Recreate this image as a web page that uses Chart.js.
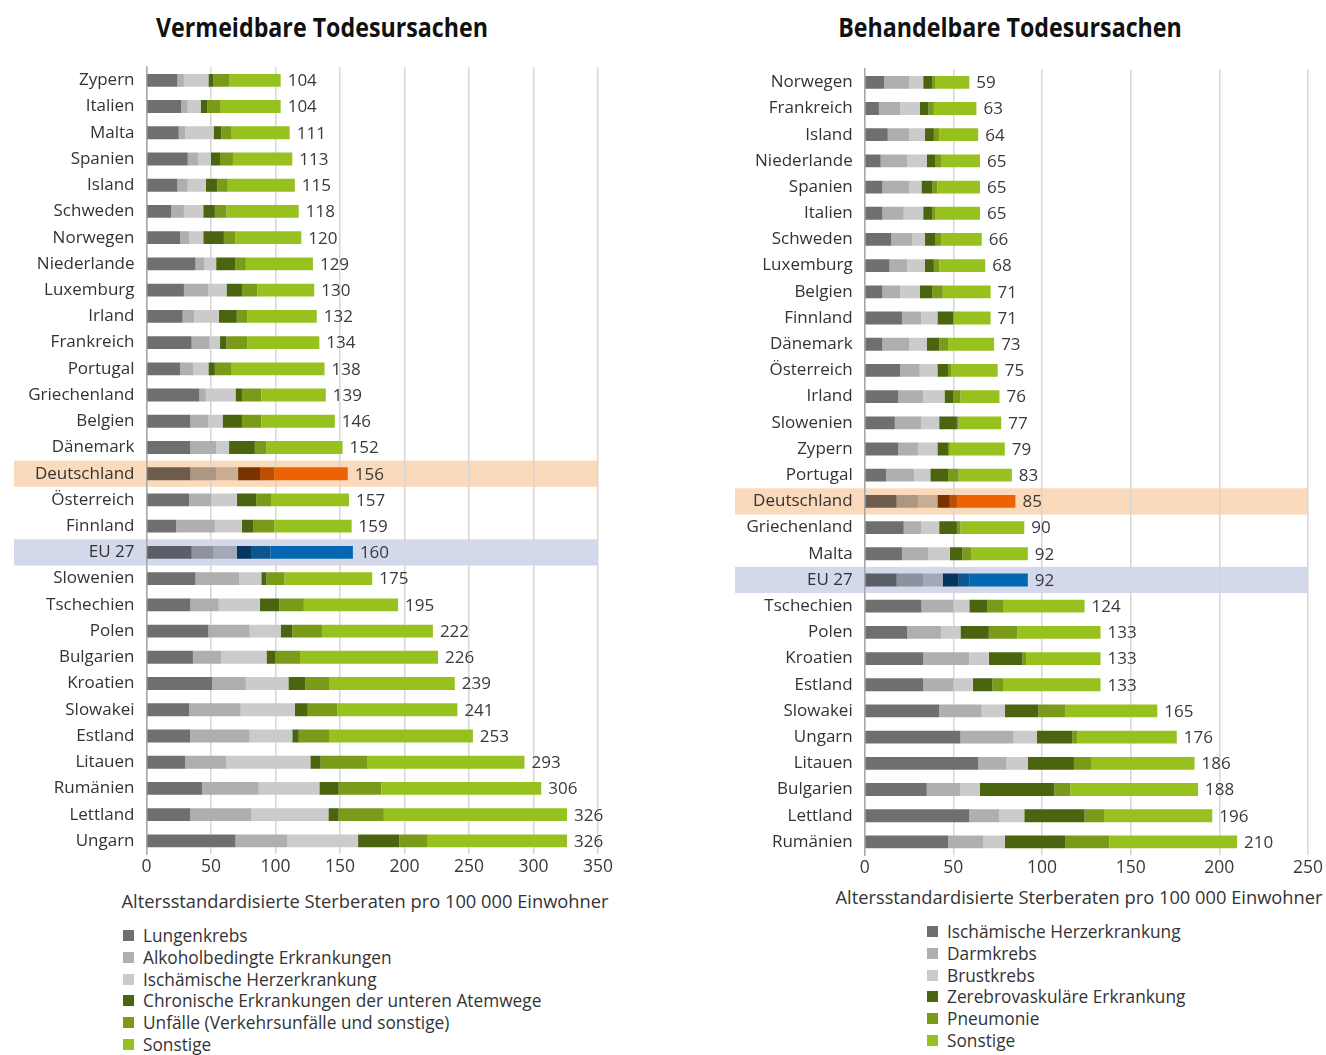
<!DOCTYPE html>
<html>
<head>
<meta charset="utf-8">
<title>Vermeidbare und behandelbare Todesursachen</title>
<script src="https://cdn.jsdelivr.net/npm/chart.js@4.4.1/dist/chart.umd.min.js"></script>
<style>
  body { margin: 0; width: 1326px; height: 1055px; background: #fff; font-family: "Open Sans", sans-serif; color: #333; position: relative; overflow: hidden; }
  .title { position: absolute; top: 8px; font-size: 27px; font-weight: 700; color: #111; text-align: center; transform: scaleX(0.86); }
  .axis-title { position: absolute; font-size: 18.3px; color: #333; text-align: center; }
  .legend { position: absolute; font-size: 17.3px; line-height: 21.8px; color: #333; }
  .legend div { position: relative; padding-left: 20px; white-space: nowrap; }
  .legend span { position: absolute; left: 0; top: 5px; width: 11px; height: 11px; }
  canvas { position: absolute; }
</style>
</head>
<body>

<div class="title" style="left:72px;width:500px;">Vermeidbare Todesursachen</div>
<div class="title" style="left:760px;width:500px;">Behandelbare Todesursachen</div>

<div style="position:absolute;left:0;top:45px;width:650px;height:835px;"><canvas id="left-chart"></canvas></div>
<div style="position:absolute;left:700px;top:47px;width:626px;height:834px;"><canvas id="right-chart"></canvas></div>

<div class="axis-title" style="left:60px;width:610px;top:888px;">Altersstandardisierte Sterberaten pro 100 000 Einwohner</div>
<div class="axis-title" style="left:779px;width:600px;top:884px;">Altersstandardisierte Sterberaten pro 100 000 Einwohner</div>

<div class="legend" id="left-legend" style="left:123px;top:925px;"></div>
<div class="legend" id="right-legend" style="left:927px;top:921px;"></div>

<script>
// ---- Vermeidbare Todesursachen ----
const vCountries = ["Zypern", "Italien", "Malta", "Spanien", "Island", "Schweden", "Norwegen", "Niederlande", "Luxemburg", "Irland",
  "Frankreich", "Portugal", "Griechenland", "Belgien", "Dänemark", "Deutschland", "Österreich", "Finnland", "EU 27", "Slowenien",
  "Tschechien", "Polen", "Bulgarien", "Kroatien", "Slowakei", "Estland", "Litauen", "Rumänien", "Lettland", "Ungarn"];
const vLungenkrebs = [24, 27, 25, 32, 24, 19, 26, 38, 29, 28, 35, 26, 41, 34, 34, 34, 33, 23, 35, 38, 34, 48, 36, 51, 33, 34, 30, 43, 34, 69];
const vAlkohol     = [5, 5, 5, 8, 8, 10, 7, 7, 19, 9, 14, 10, 5, 14, 20, 20, 17, 30, 17, 34, 22, 32, 22, 26, 40, 46, 32, 44, 47, 40];
const vHerz        = [19, 10, 22, 10, 14, 15, 11, 9, 14, 19, 8, 12, 23, 11, 10, 17, 20, 21, 18, 17, 32, 24, 35, 33, 42, 33, 65, 47, 60, 55];
const vAtemwege    = [4, 5, 6, 7, 9, 9, 16, 15, 12, 14, 5, 5, 5, 15, 20, 17, 15, 9, 11, 4, 15, 9, 7, 13, 10, 5, 8, 15, 8, 32];
const vUnfaelle    = [12, 10, 8, 10, 8, 9, 9, 8, 12, 8, 16, 13, 15, 15, 9, 11, 12, 16, 15, 14, 19, 23, 19, 19, 23, 24, 36, 33, 35, 22];
const vSonstige    = [40, 47, 45, 46, 52, 56, 51, 52, 44, 54, 56, 72, 50, 57, 59, 57, 60, 60, 64, 68, 73, 86, 107, 97, 93, 111, 122, 124, 142, 108];
const vTotals      = [104, 104, 111, 113, 115, 118, 120, 129, 130, 132, 134, 138, 139, 146, 152, 156, 157, 159, 160, 175,
  195, 222, 226, 239, 241, 253, 293, 306, 326, 326];
const vLegend = ["Lungenkrebs", "Alkoholbedingte Erkrankungen", "Ischämische Herzerkrankung",
  "Chronische Erkrankungen der unteren Atemwege", "Unfälle (Verkehrsunfälle und sonstige)", "Sonstige"];
const vTicks = [0, 50, 100, 150, 200, 250, 300, 350];

// ---- Behandelbare Todesursachen ----
const bCountries = ["Norwegen", "Frankreich", "Island", "Niederlande", "Spanien", "Italien", "Schweden", "Luxemburg", "Belgien", "Finnland",
  "Dänemark", "Österreich", "Irland", "Slowenien", "Zypern", "Portugal", "Deutschland", "Griechenland", "Malta", "EU 27",
  "Tschechien", "Polen", "Kroatien", "Estland", "Slowakei", "Ungarn", "Litauen", "Bulgarien", "Lettland", "Rumänien"];
const bHerz       = [11, 8, 13, 9, 10, 10, 15, 14, 10, 21, 10, 20, 19, 17, 19, 12, 18, 22, 21, 18, 32, 24, 33, 33, 42, 54, 64, 35, 59, 47];
const bDarm       = [14, 12, 12, 15, 15, 12, 12, 10, 10, 11, 15, 11, 14, 15, 11, 16, 12, 10, 15, 15, 18, 19, 26, 17, 24, 30, 16, 19, 17, 20];
const bBrust      = [8, 11, 9, 11, 7, 11, 7, 10, 11, 9, 10, 10, 12, 10, 11, 9, 11, 10, 12, 11, 9, 11, 11, 11, 13, 13, 12, 11, 14, 12];
const bZerebro    = [5, 5, 5, 5, 6, 5, 6, 5, 7, 9, 7, 6, 5, 10, 6, 10, 7, 10, 7, 9, 10, 16, 19, 11, 19, 20, 26, 42, 34, 34];
const bPneumonie  = [2, 3, 3, 3, 3, 2, 3, 3, 6, 0, 5, 2, 4, 1, 1, 6, 4, 2, 5, 6, 9, 16, 2, 6, 15, 3, 10, 9, 11, 25];
const bSonstige   = [19, 24, 22, 22, 24, 25, 23, 26, 27, 21, 26, 26, 22, 24, 31, 30, 33, 36, 32, 33, 46, 47, 42, 55, 52, 56, 58, 72, 61, 72];
const bTotals     = [59, 63, 64, 65, 65, 65, 66, 68, 71, 71, 73, 75, 76, 77, 79, 83, 85, 90, 92, 92,
  124, 133, 133, 133, 165, 176, 186, 188, 196, 210];
const bLegend = ["Ischämische Herzerkrankung", "Darmkrebs", "Brustkrebs", "Zerebrovaskuläre Erkrankung", "Pneumonie", "Sonstige"];
const bTicks = [0, 50, 100, 150, 200, 250];

// colours: normal rows, Deutschland, EU 27
const normalColors = ["#6f6f6f", "#afafaf", "#cbcbcb", "#4b640f", "#7a9a1a", "#97c11f"];
const deColors     = ["#6e5c4c", "#ad9682", "#c8ac94", "#7a3300", "#bd5000", "#ec6205"];
const euColors     = ["#5a5e66", "#8e929e", "#a4a9b8", "#04375f", "#0a568f", "#0468b1"];

const bandPlugin = {
  id: "bands",
  beforeDraw(chart, args, opts) {
    const { ctx, chartArea, scales: { y } } = chart;
    const step = y.getPixelForValue(1) - y.getPixelForValue(0);
    opts.rows.forEach((r) => {
      const idx = chart.data.labels.indexOf(r.label);
      const cy = y.getPixelForValue(idx);
      ctx.save();
      ctx.fillStyle = r.color;
      ctx.fillRect(opts.left, cy - step / 2, chartArea.right - opts.left, step);
      ctx.restore();
    });
  },
};

const totalsPlugin = {
  id: "totals",
  afterDatasetsDraw(chart, args, opts) {
    const { ctx } = chart;
    const meta = chart.getDatasetMeta(chart.data.datasets.length - 1);
    ctx.save();
    ctx.font = '17px "Open Sans", sans-serif';
    ctx.fillStyle = "#3a3a3a";
    ctx.textBaseline = "middle";
    meta.data.forEach((bar, i) => {
      ctx.fillText(opts.values[i], bar.x + 7, bar.y + 1);
    });
    ctx.restore();
  },
};

const drawStackedChart = (canvasId, labels, series, totals, ticks, opts) => {
  const ctx = document.getElementById(canvasId);
  const colorFor = (k) => labels.map((l) => (l === "Deutschland" ? deColors[k] : l === "EU 27" ? euColors[k] : normalColors[k]));

  return new Chart(ctx, {
    type: "bar",
    data: {
      labels: labels,
      datasets: series.map((s, k) => ({
        label: s.label,
        data: s.data,
        backgroundColor: colorFor(k),
        borderWidth: 0,
        barPercentage: 0.49,
        categoryPercentage: 1,
      })),
    },
    options: {
      indexAxis: "y",
      responsive: true,
      maintainAspectRatio: false,
      animation: false,
      events: [],
      layout: { padding: { top: opts.padTop, right: opts.padRight, left: 0, bottom: 0 } },
      plugins: {
        legend: { display: false },
        tooltip: { enabled: false },
        bands: {
          left: opts.bandLeft,
          rows: [
            { label: "Deutschland", color: "#fbd9bb" },
            { label: "EU 27", color: "#d3d9ea" },
          ],
        },
        totals: { values: totals },
      },
      scales: {
        x: {
          stacked: true,
          min: 0,
          max: ticks[ticks.length - 1],
          afterBuildTicks: (scale) => {
            scale.ticks = ticks.map((v) => ({ value: v }));
          },
          afterFit: (scale) => {
            scale.height = 26;
          },
          grid: { color: "#d6d6d6", lineWidth: 1.5, drawTicks: false },
          border: { display: false },
          ticks: { color: "#3a3a3a", padding: 3, font: { family: "Open Sans", size: 17.5 } },
        },
        y: {
          stacked: true,
          afterFit: (scale) => {
            scale.width = opts.yWidth;
          },
          grid: { display: false, drawTicks: false },
          border: { display: true, color: "#a8a8a8", width: 1.5 },
          ticks: { color: "#333", padding: 12, autoSkip: false, font: { family: "Open Sans", size: 17 } },
        },
      },
    },
    plugins: [bandPlugin, totalsPlugin],
  });
};

const fillLegend = (id, names) => {
  const box = document.getElementById(id);
  names.forEach((name, k) => {
    const row = document.createElement("div");
    row.innerHTML = '<span style="background:' + normalColors[k] + '"></span>' + name;
    box.appendChild(row);
  });
};

drawStackedChart("left-chart", vCountries, [
  { label: vLegend[0], data: vLungenkrebs },
  { label: vLegend[1], data: vAlkohol },
  { label: vLegend[2], data: vHerz },
  { label: vLegend[3], data: vAtemwege },
  { label: vLegend[4], data: vUnfaelle },
  { label: vLegend[5], data: vSonstige },
], vTotals, vTicks, { padTop: 10, padRight: 52, yWidth: 146.5, bandLeft: 14 });

drawStackedChart("right-chart", bCountries, [
  { label: bLegend[0], data: bHerz },
  { label: bLegend[1], data: bDarm },
  { label: bLegend[2], data: bBrust },
  { label: bLegend[3], data: bZerebro },
  { label: bLegend[4], data: bPneumonie },
  { label: bLegend[5], data: bSonstige },
], bTotals, bTicks, { padTop: 13.5, padRight: 17, yWidth: 164.7, bandLeft: 35 });

fillLegend("left-legend", vLegend);
fillLegend("right-legend", bLegend);
</script>
</body>
</html>
